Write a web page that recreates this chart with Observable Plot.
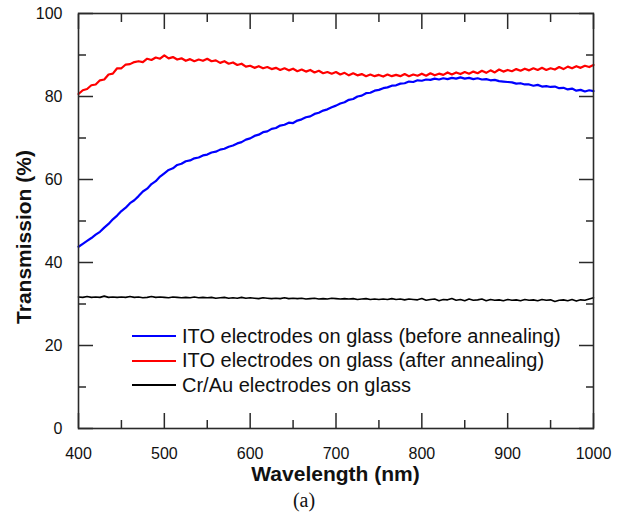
<!DOCTYPE html>
<html>
<head>
<meta charset="utf-8">
<script src="https://cdn.jsdelivr.net/npm/d3@7"></script>
<script src="https://cdn.jsdelivr.net/npm/@observablehq/plot@0.6"></script>
<style>
  html, body { margin: 0; padding: 0; background: #fff; }
  #wrap { position: relative; width: 628px; height: 519px; font-family: "Liberation Sans", Arial, sans-serif; }
  #chart { position: absolute; left: 0; top: 0; }
  .ttl { position: absolute; font-weight: bold; font-size: 21px; color: #111; white-space: nowrap; }
  #xt { left: 0; width: 671px; top: 462px; text-align: center; }
  #yt { left: 24px; top: 237px; transform: translate(-50%, -50%) rotate(-90deg); }
  #cap { position: absolute; left: 254px; width: 100px; top: 489px; text-align: center; font-family: "Liberation Serif", "Times New Roman", serif; font-size: 20px; color: #111; }
  #legend { position: absolute; left: 132px; top: 324px; font-size: 20px; color: #111; }
  .row { height: 24.5px; display: flex; align-items: center; white-space: nowrap; }
  .sw { width: 44px; height: 0; border-top: 2.5px solid; margin-right: 6px; }
</style>
</head>
<body>
<div id="wrap">
  <div id="chart"></div>
  <div id="legend"></div>
  <div class="ttl" id="xt">Wavelength (nm)</div>
  <div class="ttl" id="yt">Transmission (%)</div>
  <div id="cap">(a)</div>
</div>
<script>
const wavelengths = [
  400,405,410,415,420,425,430,435,440,445,
  450,455,460,465,470,475,480,485,490,495,
  500,505,510,515,520,525,530,535,540,545,
  550,555,560,565,570,575,580,585,590,595,
  600,605,610,615,620,625,630,635,640,645,
  650,655,660,665,670,675,680,685,690,695,
  700,705,710,715,720,725,730,735,740,745,
  750,755,760,765,770,775,780,785,790,795,
  800,805,810,815,820,825,830,835,840,845,
  850,855,860,865,870,875,880,885,890,895,
  900,905,910,915,920,925,930,935,940,945,
  950,955,960,965,970,975,980,985,990,995,
  1000
];
const itoBefore = [
  43.8,44.5,45.2,45.9,46.7,47.4,48.4,49.3,50.4,51.3,
  52.4,53.2,54.3,55.0,56.0,57.1,57.8,58.9,59.6,60.7,
  61.5,62.3,62.7,63.5,63.8,64.4,64.6,65.1,65.3,65.8,
  66.0,66.5,66.7,67.2,67.4,67.9,68.2,68.7,69.0,69.6,
  69.9,70.5,70.8,71.4,71.6,72.2,72.4,73.0,73.2,73.7,
  73.6,74.2,74.5,75.0,75.2,75.8,76.1,76.6,76.9,77.4,
  77.8,78.3,78.6,79.2,79.4,80.0,80.2,80.8,80.9,81.4,
  81.6,82.0,82.2,82.6,82.7,83.1,83.2,83.6,83.5,83.9,
  83.8,84.1,84.0,84.3,84.1,84.4,84.2,84.5,84.3,84.6,
  84.3,84.5,84.2,84.4,84.1,84.2,83.9,84.0,83.7,83.6,
  83.5,83.4,83.1,83.2,82.9,82.9,82.6,82.8,82.4,82.5,
  82.3,82.4,82.0,82.1,81.7,81.9,81.4,81.6,81.2,81.5,
  81.3
];
const itoAfter = [
  80.6,81.5,81.8,82.7,82.9,83.9,84.1,85.3,85.5,86.8,
  86.8,87.7,87.8,88.3,88.5,88.3,89.1,88.8,89.4,89.1,
  89.9,89.2,89.5,88.9,89.2,88.6,89.0,88.5,88.9,88.6,
  89.1,88.5,88.7,88.1,88.5,87.9,88.2,87.6,87.9,87.2,
  87.4,86.9,87.3,86.8,87.1,86.6,86.9,86.4,86.8,86.3,
  86.7,86.1,86.5,86.0,86.4,85.8,86.2,85.6,85.9,85.5,
  85.9,85.3,85.7,85.1,85.6,85.1,85.4,84.9,85.3,84.9,
  85.2,84.8,85.3,84.9,85.2,84.9,85.4,84.9,85.3,85.0,
  85.5,85.0,85.6,85.1,85.5,85.2,85.8,85.3,85.8,85.4,
  85.9,85.5,86.0,85.6,86.2,85.7,86.3,85.8,86.5,86.0,
  86.4,86.1,86.6,86.2,86.7,86.3,86.8,86.4,86.9,86.4,
  86.8,86.5,87.1,86.6,87.2,86.8,87.3,86.9,87.4,87.1,
  87.6
];
const crAu = [
  31.7,31.6,31.8,31.6,31.7,31.6,31.9,31.6,31.7,31.6,
  31.7,31.6,31.8,31.6,31.7,31.5,31.6,31.8,31.6,31.7,
  31.6,31.5,31.7,31.6,31.5,31.6,31.5,31.7,31.5,31.6,
  31.5,31.6,31.4,31.5,31.6,31.4,31.5,31.4,31.6,31.4,
  31.5,31.4,31.3,31.5,31.4,31.3,31.4,31.3,31.5,31.3,
  31.4,31.3,31.4,31.2,31.3,31.4,31.2,31.3,31.2,31.4,
  31.3,31.2,31.3,31.2,31.3,31.1,31.2,31.3,31.1,31.2,
  31.1,31.2,31.1,31.3,31.1,31.2,31.0,31.2,31.1,31.0,
  31.3,30.9,31.1,31.2,30.8,31.1,31.0,31.3,30.9,31.1,
  30.8,31.2,30.9,31.0,31.2,30.8,31.1,30.9,31.0,30.8,
  31.1,30.9,31.0,30.8,31.1,30.9,31.0,30.8,31.1,30.9,
  31.0,30.6,30.9,31.0,30.8,31.1,30.7,31.0,30.9,31.2,
  31.5
];
const seriesNames = [
  "ITO electrodes on glass (before annealing)",
  "ITO electrodes on glass (after annealing)",
  "Cr/Au electrodes on glass"
];
const seriesColors = ["#0000ff", "#ff0000", "#000000"];
const xMajorTicks = [400, 500, 600, 700, 800, 900, 1000];
const xMinorTicks = [450, 550, 650, 750, 850, 950];
const yMajorTicks = [0, 20, 40, 60, 80, 100];
const yMinorTicks = [10, 30, 50, 70, 90];

const seriesValues = [itoBefore, itoAfter, crAu];
const rows = [];
seriesValues.forEach((vals, s) => {
  vals.forEach((v, i) => rows.push({wl: wavelengths[i], t: v, s: seriesNames[s]}));
});

const axisColor = "#2a2a2a";
const tickStyle = {text: null, label: null, stroke: axisColor, strokeWidth: 1.5};
const chart = Plot.plot({
  width: 628,
  height: 492,
  marginLeft: 78,
  marginRight: 35,
  marginTop: 13,
  marginBottom: 64,
  style: {fontFamily: "'Liberation Sans', Arial, sans-serif", fontSize: "16px", color: "#111", background: "#fff"},
  x: {domain: [400, 1000]},
  y: {domain: [0, 100]},
  color: {domain: seriesNames, range: seriesColors},
  marks: [
    Plot.line(rows.filter(d => d.s === seriesNames[2]), {x: "wl", y: "t", stroke: "s", strokeWidth: 1.6}),
    Plot.line(rows.filter(d => d.s === seriesNames[0]), {x: "wl", y: "t", stroke: "s", strokeWidth: 2.2}),
    Plot.line(rows.filter(d => d.s === seriesNames[1]), {x: "wl", y: "t", stroke: "s", strokeWidth: 2.2}),
    // inward ticks on all four sides (outward ticks shifted inside by their own length)
    Plot.axisX({anchor: "bottom", ticks: xMajorTicks, tickSize: 15, dy: -15, ...tickStyle}),
    Plot.axisX({anchor: "bottom", ticks: xMinorTicks, tickSize: 8, dy: -8, ...tickStyle}),
    Plot.axisX({anchor: "top", ticks: xMajorTicks, tickSize: 15, dy: 15, ...tickStyle}),
    Plot.axisX({anchor: "top", ticks: xMinorTicks, tickSize: 8, dy: 8, ...tickStyle}),
    Plot.axisY({anchor: "left", ticks: yMajorTicks, tickSize: 15, dx: 15, ...tickStyle}),
    Plot.axisY({anchor: "left", ticks: yMinorTicks, tickSize: 8, dx: 8, ...tickStyle}),
    Plot.axisY({anchor: "right", ticks: yMajorTicks, tickSize: 15, dx: -15, ...tickStyle}),
    Plot.axisY({anchor: "right", ticks: yMinorTicks, tickSize: 8, dx: -8, ...tickStyle}),
    // tick labels
    Plot.axisX({anchor: "bottom", ticks: xMajorTicks, tickFormat: d3.format("d"), tickSize: 0, tickPadding: 19, label: null, fontSize: 16, fill: "#111"}),
    Plot.axisY({anchor: "left", ticks: yMajorTicks, tickFormat: d3.format("d"), tickSize: 0, tickPadding: 16, label: null, fontSize: 16, fill: "#111"}),
    Plot.frame({stroke: axisColor, strokeWidth: 1.6})
  ]
});
document.getElementById("chart").appendChild(chart);

const legend = document.getElementById("legend");
seriesNames.forEach((name, i) => {
  const row = document.createElement("div");
  row.className = "row";
  const sw = document.createElement("span");
  sw.className = "sw";
  sw.style.borderTopColor = seriesColors[i];
  const tx = document.createElement("span");
  tx.textContent = name;
  row.appendChild(sw);
  row.appendChild(tx);
  legend.appendChild(row);
});
</script>
</body>
</html>
